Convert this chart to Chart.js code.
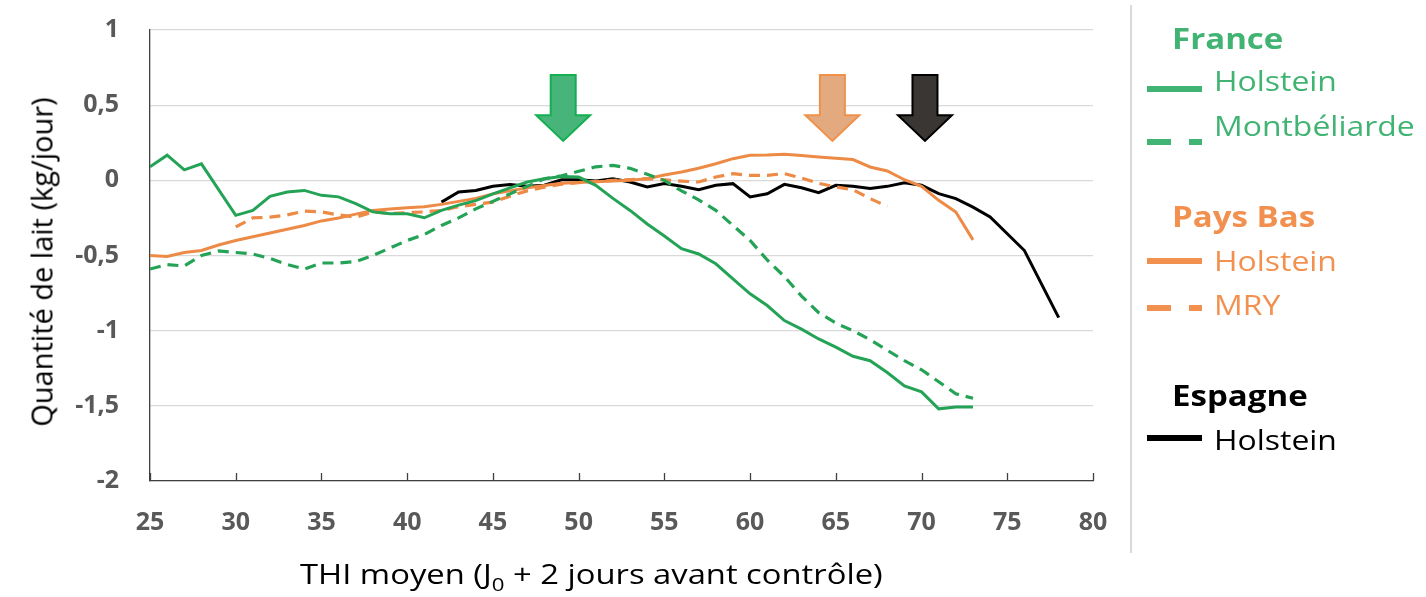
<!DOCTYPE html>
<html><head><meta charset="utf-8">
<script src="https://cdn.jsdelivr.net/npm/chart.js@4.4.0/dist/chart.umd.min.js"></script>
<style>
html,body{margin:0;padding:0;background:#fff;}
#wrap{position:relative;width:1426px;height:597px;overflow:hidden;font-family:"Open Sans",sans-serif;}
#c{position:absolute;left:0;top:0;}
.lg{position:absolute;white-space:nowrap;line-height:1;font-size:28px;transform:scaleX(1.14);transform-origin:0 0;}
.b{font-weight:700;font-size:29px;}
.sw{position:absolute;height:6px;}
#sep{position:absolute;left:1130px;top:5px;width:2px;height:548px;background:#D9D9D9;}
#xt{position:absolute;left:300px;top:559px;white-space:nowrap;line-height:1;font-size:28px;color:#000;transform:scaleX(1.17);transform-origin:0 0;}
#xt sub{font-size:19px;vertical-align:-7px;line-height:1;}
#yt{position:absolute;left:41px;top:262px;white-space:nowrap;line-height:1;font-size:29px;color:#000;transform:translate(-50%,-50%) rotate(-90deg);}
</style></head>
<body><div id="wrap">
<canvas id="c" width="1426" height="597"></canvas>
<div id="sep"></div>
<div id="yt">Quantité de lait (kg/jour)</div>
<div id="xt">THI moyen (J<sub>0</sub> + 2 jours avant contrôle)</div>
<div class="lg b" style="left:1172px;top:23px;color:#41B373">France</div>
<div class="sw" style="left:1147px;top:86px;width:55px;background:#41B373"></div>
<div class="lg" style="left:1214px;top:66px;color:#41B373">Holstein</div>
<div class="sw" style="left:1147px;top:139px;width:24px;background:#41B373"></div>
<div class="sw" style="left:1189px;top:139px;width:13px;background:#41B373"></div>
<div class="lg" style="left:1214px;top:111px;color:#41B373">Montbéliarde</div>
<div class="lg b" style="left:1172px;top:201px;color:#F2914F">Pays Bas</div>
<div class="sw" style="left:1147px;top:258px;width:55px;background:#F2914F"></div>
<div class="lg" style="left:1214px;top:246px;color:#F2914F">Holstein</div>
<div class="sw" style="left:1147px;top:305px;width:24px;background:#F2914F"></div>
<div class="sw" style="left:1189px;top:305px;width:13px;background:#F2914F"></div>
<div class="lg" style="left:1214px;top:290px;color:#F2914F">MRY</div>
<div class="lg b" style="left:1172px;top:380px;color:#000">Espagne</div>
<div class="sw" style="left:1147px;top:435px;width:55px;background:#000"></div>
<div class="lg" style="left:1214px;top:425px;color:#000">Holstein</div>
</div>
<script>
// ---- Data ----
const thiFrance = [25,26,27,28,29,30,31,32,33,34,35,36,37,38,39,40,41,42,43,44,45,46,47,48,49,50,51,52,53,54,55,56,57,58,59,60,61,62,63,64,65,66,67,68,69,70,71,72,73];
const franceHolstein = [0.09,0.167,0.07,0.11,null,-0.233,-0.2,-0.107,-0.078,-0.067,-0.1,-0.11,-0.155,-0.21,-0.222,-0.222,-0.249,-0.2,-0.165,-0.135,-0.09,-0.05,-0.011,0.011,0.025,0.022,-0.033,-0.12,-0.2,-0.29,-0.37,-0.455,-0.49,-0.555,-0.655,-0.755,-0.833,-0.933,-0.99,-1.055,-1.11,-1.17,-1.2,-1.278,-1.367,-1.407,-1.52,-1.507,-1.507];
const franceMontbeliarde = [-0.59,-0.56,-0.57,-0.5,-0.47,-0.48,-0.49,-0.52,-0.56,-0.59,-0.55,-0.55,-0.54,-0.5,-0.45,-0.4,-0.36,-0.3,-0.25,-0.19,-0.14,-0.09,-0.04,0.01,0.03,0.06,0.09,0.1,0.08,0.04,0.0,-0.07,-0.13,-0.2,-0.3,-0.4,-0.53,-0.64,-0.77,-0.88,-0.95,-1.0,-1.06,-1.13,-1.2,-1.26,-1.34,-1.42,-1.45];
const thiPaysBasHolstein = thiFrance;
const paysBasHolstein = [-0.5,-0.507,-0.48,-0.467,-0.43,-0.4,-0.375,-0.35,-0.325,-0.3,-0.27,-0.25,-0.225,-0.2,-0.19,-0.183,-0.175,-0.16,-0.14,-0.12,-0.09,-0.07,-0.05,-0.035,-0.02,-0.015,-0.01,-0.005,0.0,0.01,0.035,0.055,0.08,0.11,0.144,0.167,0.168,0.173,0.165,0.156,0.147,0.138,0.089,0.062,0.004,-0.04,-0.133,-0.211,-0.396];
const thiMRY = [30,31,32,33,34,35,36,37,38,39,40,41,42,43,44,45,46,47,48,49,50,51,52,53,54,55,56,57,58,59,60,61,62,63,64,65,66,67,68];
const paysBasMRY = [-0.31,-0.25,-0.245,-0.23,-0.205,-0.21,-0.23,-0.245,-0.21,-0.22,-0.215,-0.21,-0.2,-0.175,-0.16,-0.145,-0.105,-0.07,-0.045,-0.025,-0.015,-0.008,0.0,0.005,0.011,0.003,-0.005,-0.011,0.022,0.044,0.033,0.033,0.045,0.015,-0.02,-0.044,-0.062,-0.122,-0.173];
const thiEspagne = [42,43,44,45,46,47,48,49,50,51,52,53,54,55,56,57,58,59,60,61,62,63,64,65,66,67,68,69,70,71,72,73,74,76,78];
const espagneHolstein = [-0.145,-0.078,-0.067,-0.04,-0.027,-0.04,-0.033,0.004,0.004,-0.004,0.011,-0.011,-0.044,-0.022,-0.04,-0.062,-0.033,-0.022,-0.111,-0.089,-0.027,-0.049,-0.082,-0.033,-0.04,-0.055,-0.04,-0.016,-0.033,-0.089,-0.122,-0.178,-0.244,-0.467,-0.913];
// Arrows (THI position of each threshold arrow)
const arrowThi = [49.1, 64.8, 70.2];
const arrowFill = ['#47B47A','#E2AA7E','#393634'];
const arrowStroke = ['#12B050','#F0914A','#000000'];
const arrowTopVal = 0.7, arrowNeckVal = 0.433, arrowTipVal = 0.262;
const xTicks = [25,30,35,40,45,50,55,60,65,70,75,80];

const pts = (xs, ys) => xs.map((x,i)=>({x:x, y:ys[i]}));

const GREEN = '#24A356', ORANGE = '#EC8A46';

const arrowPlugin = {
  id:'arrows',
  afterDatasetsDraw(chart){
    const {ctx, scales:{x,y}} = chart;
    ctx.save();
    const top = y.getPixelForValue(arrowTopVal), neck = y.getPixelForValue(arrowNeckVal), tip = y.getPixelForValue(arrowTipVal);
    arrowThi.forEach((v,i)=>{
      const cx = x.getPixelForValue(v);
      const sw = 12.5, hw = 27;
      ctx.beginPath();
      ctx.moveTo(cx-sw, top); ctx.lineTo(cx+sw, top); ctx.lineTo(cx+sw, neck);
      ctx.lineTo(cx+hw, neck); ctx.lineTo(cx, tip); ctx.lineTo(cx-hw, neck);
      ctx.lineTo(cx-sw, neck); ctx.closePath();
      ctx.fillStyle = arrowFill[i]; ctx.fill();
      ctx.lineWidth = 2; ctx.strokeStyle = arrowStroke[i]; ctx.lineJoin='miter'; ctx.stroke();
    });
    // inside tick marks on x axis
    ctx.strokeStyle = '#404040'; ctx.lineWidth = 1.3;
    xTicks.forEach(t=>{
      const px = Math.round(x.getPixelForValue(t))+0.5;
      ctx.beginPath(); ctx.moveTo(px, chart.chartArea.bottom); ctx.lineTo(px, chart.chartArea.bottom-8); ctx.stroke();
    });
    ctx.restore();
  }
};

new Chart(document.getElementById('c'), {
  type:'line',
  data:{datasets:[
    {label:'France Holstein', data:pts(thiFrance, franceHolstein), borderColor:GREEN, borderWidth:3, spanGaps:true},
    {label:'France Montbéliarde', data:pts(thiFrance, franceMontbeliarde), borderColor:GREEN, borderWidth:3.2, borderDash:[11,7]},
    {label:'Pays Bas Holstein', data:pts(thiPaysBasHolstein, paysBasHolstein), borderColor:ORANGE, borderWidth:3},
    {label:'Pays Bas MRY', data:pts(thiMRY, paysBasMRY), borderColor:ORANGE, borderWidth:3.2, borderDash:[11,7]},
    {label:'Espagne Holstein', data:pts(thiEspagne, espagneHolstein), borderColor:'#000000', borderWidth:3}
  ]},
  options:{
    responsive:false, animation:false, devicePixelRatio:1,
    layout:{padding:{left:0, top:30, right:333, bottom:0}},
    plugins:{legend:{display:false}, tooltip:{enabled:false}},
    elements:{point:{radius:0}, line:{tension:0, fill:false}},
    scales:{
      x:{type:'linear', min:25, max:80,
        afterFit(s){ s.height = 116; s.paddingLeft = 0; s.paddingRight = 0; },
        ticks:{stepSize:5, color:'#595959', font:{family:'Open Sans', size:25, weight:'bold'}, padding:27, maxRotation:0},
        grid:{display:false, drawTicks:false},
        border:{display:true, color:'#404040', width:1.3},
        title:{display:false}
      },
      y:{min:-2, max:1,
        afterFit(s){ s.width = 150; s.paddingTop = 0; s.paddingBottom = 0; },
        ticks:{stepSize:0.5, color:'#595959', font:{family:'Open Sans', size:25, weight:'bold'}, padding:31,
          callback:(v)=> String(v).replace('.', ',')},
        grid:{color:'#D9D9D9', lineWidth:1.3, drawTicks:false},
        border:{display:true, color:'#404040', width:1.3},
        title:{display:false}
      }
    }
  },
  plugins:[arrowPlugin]
});
</script>
</body></html>
